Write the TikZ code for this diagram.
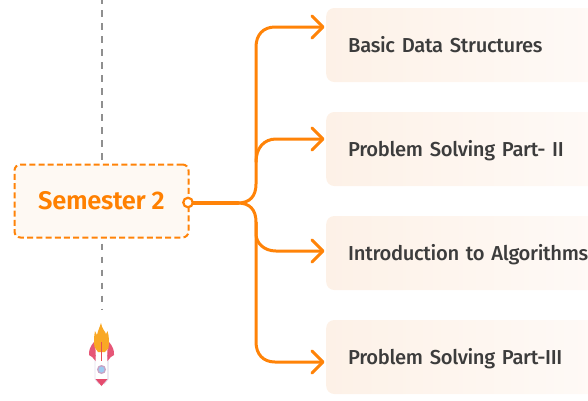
\documentclass[tikz,border=0pt]{standalone}
\usepackage{fontspec}
\setmainfont{Fira Sans}
\newfontfamily\medfont[LetterSpace=-1.6,WordSpace=0.8]{Fira Sans Medium}
\newfontfamily\semifont[LetterSpace=-1.2]{Fira Sans SemiBold}
\usetikzlibrary{arrows.meta}
\definecolor{orangeline}{HTML}{FF8308}
\definecolor{semtext}{HTML}{FF8000}
\definecolor{semfill}{HTML}{FEF9F3}
\definecolor{boxleft}{HTML}{FDF1E7}
\definecolor{boxright}{HTML}{FFFCFA}
\definecolor{boxtext}{HTML}{3C3C3C}
\definecolor{timeline}{HTML}{8F8F8F}
\definecolor{wingred}{HTML}{E2385F}
\definecolor{flame}{HTML}{F9A825}
\definecolor{windowblue}{HTML}{9CCBF2}
\definecolor{windowrim}{HTML}{C9A3C4}
\definecolor{hull}{HTML}{E4E0EC}
\tikzset{
  topicbox/.style={shape=rectangle,rounded corners=8pt,left color=boxleft,right color=boxright,
    minimum height=74pt,text width=290pt,align=left,inner xsep=22pt,inner ysep=0pt,anchor=west,
    text height=18pt,text depth=4pt,
    font=\medfont\fontsize{20.2}{24}\selectfont,text=boxtext},
  sembox/.style={shape=rectangle,rounded corners=6pt,draw=orangeline,fill=semfill,line width=2pt,
    dash pattern=on 6pt off 3.2pt,minimum width=174pt,minimum height=73pt,
    font=\semifont\fontsize{25.5}{28}\selectfont,text=semtext,inner sep=0pt},
  port/.style={shape=circle,draw=orangeline,fill=white,line width=2.2pt,minimum size=9.5pt,inner sep=0pt},
  branch/.style={draw=orangeline,line width=3pt,line cap=round,
    -{Straight Barb[length=11pt,width=22pt,line width=3pt,round]}},
  stem/.style={draw=orangeline,line width=3.2pt,line cap=round},
  rail/.style={draw=timeline,line width=2pt,dash pattern=on 6.5pt off 6.5pt},
}
\begin{document}
\begin{tikzpicture}[x=1pt,y=-1pt]
\useasboundingbox (0,0) rectangle (588,400);
\clip (0,0) rectangle (588,400);
\coordinate (railtop) at (101.5,0);
\coordinate (railupper) at (101.5,160);
\coordinate (raillower) at (101.5,243.5);
\coordinate (railbottom) at (101.5,309);
\draw[rail,dash phase=3pt] (railtop) -- (railupper);
\draw[rail] (raillower) -- (railbottom);
\node[sembox] (sem) at (101.5,201) {\raisebox{-.5pt}{Semester 2}};
\node[topicbox] (b1) at (326,45) {Basic Data Structures};
\node[topicbox] (b2) at (326,149) {Problem Solving Part- II};
\node[topicbox] (b3) at (326,253) {Introduction to Algorithms};
\node[topicbox] (b4) at (326,357) {Problem Solving Part-III};
\coordinate (j) at (238,203);
\coordinate (t1) at (324.5,27);
\coordinate (t2) at (324.5,139);
\coordinate (t3) at (324.5,251);
\coordinate (t4) at (324.5,362);
\draw[stem] (j) -- (190,203);
\draw[branch] (j) .. controls (250,203) and (256,196) .. (256,184) -- (256,47) .. controls (256,35) and (263,27) .. (275,27) -- (t1);
\draw[branch] (256,162) .. controls (256,148) and (264,139) .. (276,139) -- (t2);
\draw[branch] (j) .. controls (250,203) and (256,210) .. (256,222) -- (256,234) .. controls (256,243) and (264,251) .. (276,251) -- (t3);
\draw[branch] (256,222) -- (256,342) .. controls (256,354) and (263,362) .. (275,362) -- (t4);
\node[port] (dot) at (188,202.5) {};
% rocket
\fill[white] (101.5,340) .. controls (106,346) and (108,352) .. (108,360) -- (108,380) -- (101.5,386) -- (95,380) -- (95,360) .. controls (95,352) and (97,346) .. (101.5,340) -- cycle;
\draw[draw=hull,line width=1.2pt] (108,352) -- (108,379) -- (104,384);
\draw[draw=hull,line width=.8pt] (95,358) -- (95,379) -- (99,384);
\fill[wingred,opacity=.85] (94,342) .. controls (90,346) and (88.5,352) .. (89,355) .. controls (91,356) and (94,358) .. (95.5,361) .. controls (96,354) and (96,348) .. (94,342) -- cycle;
\fill[wingred,opacity=.85] (109,342) .. controls (113,346) and (114.5,352) .. (114,355) .. controls (112,356) and (109,358) .. (107.5,361) .. controls (107,354) and (107,348) .. (109,342) -- cycle;
\fill[flame] (101,323) .. controls (102,329) and (105,331) .. (106,334) .. controls (107,333) and (107.5,332) .. (107.5,331) .. controls (109,336) and (109.5,342) .. (108.5,348) -- (105,352) -- (98,352) -- (94.5,347) .. controls (93.5,342) and (94,336) .. (95,331) .. controls (96,333) and (96.5,334) .. (97,335) .. controls (98,330) and (100,327) .. (101,323) -- cycle;
\fill[wingred!80!flame] (100.8,342) rectangle (102.2,361);
\fill[windowblue,draw=windowrim,line width=1.3pt] (101.5,369.5) circle (3.8pt);
\fill[wingred,opacity=.9] (95.5,379) -- (107.5,379) -- (101.5,386) -- cycle;
\end{tikzpicture}
\end{document}
